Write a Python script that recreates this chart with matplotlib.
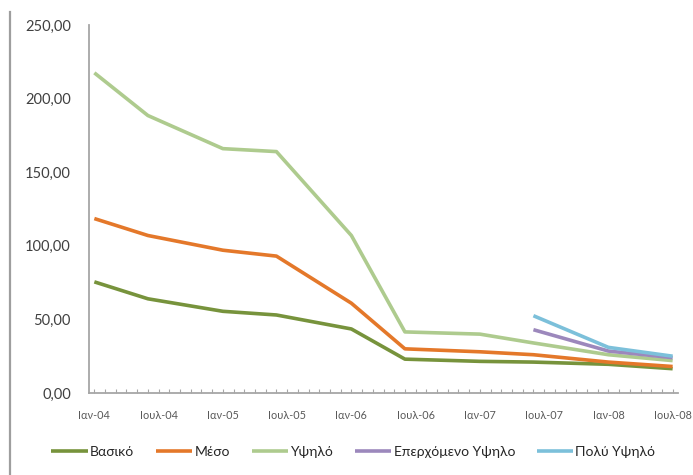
import matplotlib
matplotlib.use("Agg")
import matplotlib.pyplot as plt
from matplotlib.lines import Line2D
import pandas as pd

plt.rcParams['font.family'] = ['Lato', 'DejaVu Sans']

# Observation dates (month) for the three main tariffs
dates_main = ["2004-01", "2004-06", "2005-01", "2005-06", "2006-01",
              "2006-06", "2007-01", "2007-06", "2008-01", "2008-07"]
vasiko = [75.5, 64.0, 55.5, 53.0, 43.5, 23.0, 21.5, 21.0, 19.5, 16.5]
meso = [118.5, 107.0, 97.0, 93.0, 61.0, 30.0, 28.0, 26.0, 21.0, 18.0]
ypsilo = [217.5, 188.5, 166.0, 164.0, 107.0, 41.5, 40.0, 34.0, 26.0, 22.0]

# The two newer tariffs only exist from mid-2007
dates_new = ["2007-06", "2008-01", "2008-07"]
eperxomeno = [43.0, 28.5, 24.0]
poly_ypsilo = [52.5, 31.0, 25.0]

series_names = ["Βασικό", "Μέσο", "Υψηλό", "Επερχόμενο Υψηλο", "Πολύ Υψηλό"]
series_colors = ["#77933C", "#E4782A", "#AECB8E", "#9C88BC", "#7CC0DA"]

start_month = "2004-01"
end_month = "2008-07"
greek_months = {1: "Ιαν", 7: "Ιουλ"}
yticks = [0, 50, 100, 150, 200, 250]


def month_index(labels):
    base = pd.Period(start_month, freq="M")
    return [(pd.Period(s, freq="M") - base).n for s in labels]


n_months = month_index([end_month])[0] + 1
all_months = pd.period_range(start_month, end_month, freq="M")

fig = plt.figure(figsize=(6.93, 4.75), dpi=100)
ax = fig.add_axes([89 / 693, 1 - 393 / 475, (678 - 89) / 693, (393 - 25) / 475])

x_main = month_index(dates_main)
x_new = month_index(dates_new)
data = [(x_main, vasiko), (x_main, meso), (x_main, ypsilo),
        (x_new, eperxomeno), (x_new, poly_ypsilo)]
for (xs, ys), name, col in zip(data, series_names, series_colors):
    ax.plot(xs, ys, color=col, lw=2.6, label=name,
            solid_joinstyle="round", solid_capstyle="butt")

ax.set_xlim(-0.5, n_months - 0.5)
ax.set_ylim(0, 250)
ax.set_yticks(yticks)
ax.set_yticklabels([f"{v:.2f}".replace(".", ",") for v in yticks])

major = [i for i, p in enumerate(all_months) if p.month in greek_months]
ax.set_xticks(major)
ax.set_xticklabels([f"{greek_months[all_months[i].month]}-{all_months[i].year % 100:02d}"
                    for i in major])
ax.set_xticks(range(n_months), minor=True)

for side in ("top", "right"):
    ax.spines[side].set_visible(False)
for side in ("left", "bottom"):
    ax.spines[side].set_color("#A6A6A6")
    ax.spines[side].set_linewidth(1.3)

ax.tick_params(axis="y", length=0, pad=13, labelsize=10.5, labelcolor="#404040")
ax.tick_params(axis="x", which="both", direction="in", length=3, width=0.8,
               color="#A6A6A6", pad=12, labelsize=7.8, labelcolor="#595959")

leg = fig.legend(loc="center", bbox_to_anchor=(0.51, 1 - 452 / 475), ncol=5,
                 frameon=False, fontsize=10, handlelength=2.6, handletextpad=0.15,
                 columnspacing=1.6)
for t in leg.get_texts():
    t.set_color("#262626")

# page border on the left
fig.add_artist(Line2D([10 / 693, 10 / 693], [0, 1 - 12 / 475],
                      transform=fig.transFigure, color="#9E9E9E", lw=1.6))

fig.savefig("out.png", dpi=100, facecolor="white")
